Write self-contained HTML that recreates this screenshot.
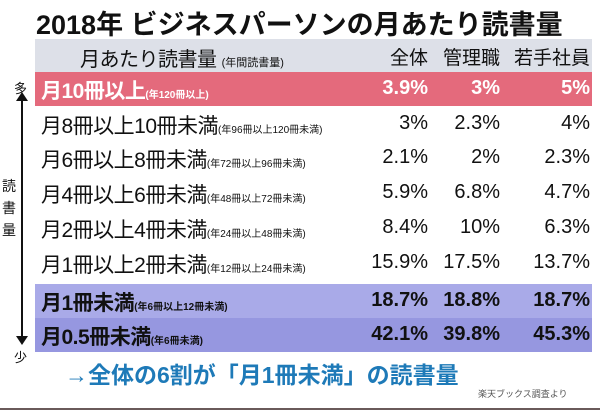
<!DOCTYPE html>
<html><head><meta charset="utf-8"><style>
body{margin:0;width:600px;height:412px;background:#fff;position:relative;overflow:hidden;font-family:"Liberation Sans","Noto Sans CJK JP",sans-serif;color:#111}
.a{position:absolute}
.row{position:absolute;left:35px;width:557px;height:35px}
.lab{position:absolute;left:6px;top:3px;font-size:21px;white-space:nowrap;letter-spacing:-0.5px}
.lab small{font-size:10px;letter-spacing:0}
.v{position:absolute;top:5px;font-size:20px;text-align:right;width:80px}
.c1{left:313px}.c2{left:385px}.c3{left:475px}
.h{font-size:19px;top:4px}
.b{font-weight:bold}
</style></head><body>
<div class="a b" style="left:36px;top:3px;font-size:27px">2018年 ビジネスパーソンの月あたり読書量</div>
<div class="row" style="top:39px;height:33px;background:#dde0e8">
 <div class="lab" style="left:45px;top:4px;font-size:20px">月あたり読書量 <small style="font-size:11px">(年間読書量)</small></div>
 <div class="v c1 h">全体</div><div class="v c2 h">管理職</div><div class="v c3 h">若手社員</div>
</div>
<div id="rows"></div>
<div class="a" style="left:14px;top:78px;font-size:13px">多</div>
<div class="a" style="left:21px;top:98px;width:2px;height:240px;background:#111"></div>
<div class="a" style="left:16px;top:92px;border-left:6px solid transparent;border-right:6px solid transparent;border-bottom:9px solid #111"></div>
<div class="a" style="left:16px;top:336px;border-left:6px solid transparent;border-right:6px solid transparent;border-top:9px solid #111"></div>
<div class="a" style="left:2px;top:175px;font-size:14px;line-height:22px;width:16px;background:#fff">読<br>書<br>量</div>
<div class="a" style="left:14px;top:347px;font-size:13px">少</div>
<div class="a b" style="left:65px;top:356px;font-size:23px;color:#1e7ab8">→全体の6割が「月1冊未満」の読書量</div>
<div class="a" style="left:478px;top:387px;font-size:9px;color:#555">楽天ブックス調査より</div>
<div class="a" style="left:0;top:408px;width:600px;height:2px;background:#6a5a5a"></div>
<script>
const labels=["月10冊以上","月8冊以上10冊未満","月6冊以上8冊未満","月4冊以上6冊未満","月2冊以上4冊未満","月1冊以上2冊未満","月1冊未満","月0.5冊未満"];
const subs=["(年120冊以上)","(年96冊以上120冊未満)","(年72冊以上96冊未満)","(年48冊以上72冊未満)","(年24冊以上48冊未満)","(年12冊以上24冊未満)","(年6冊以上12冊未満)","(年6冊未満)"];
const total=["3.9%","3%","2.1%","5.9%","8.4%","15.9%","18.7%","42.1%"];
const mgr=["3%","2.3%","2%","6.8%","10%","17.5%","18.8%","39.8%"];
const young=["5%","4%","2.3%","4.7%","6.3%","13.7%","18.7%","45.3%"];
const tops=[72,107,141,176,211,246,284,318];
const bgs=["#e46a7c","#fff","#fff","#fff","#fff","#fff","#a9aae8","#9697e0"];
const host=document.getElementById('rows');
labels.forEach((l,i)=>{
 const r=document.createElement('div');r.className='row';
 
 
 r.style.top=tops[i]+'px';r.style.height=(i==0?34:(i>=6?34:35))+'px';r.style.background=bgs[i];
 const bold=(i==0||i>=6),col=i==0?'#fff':'#111';
 r.innerHTML=`<div class="lab${bold?' b':''}" style="color:${col}">${l}<small>${subs[i]}</small></div>`+
 [total,mgr,young].map((a,j)=>`<div class="v c${j+1}${bold?' b':''}" style="color:${col}">${a[i]}</div>`).join('');
 host.appendChild(r);
});
</script>
</body></html>
